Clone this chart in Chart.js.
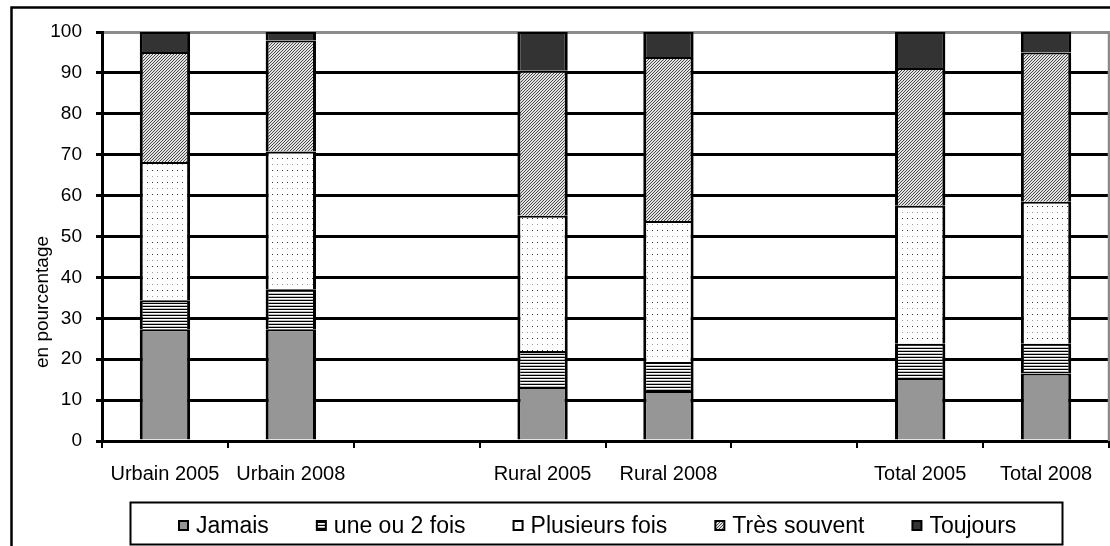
<!DOCTYPE html>
<html>
<head>
<meta charset="utf-8">
<script src="https://cdn.jsdelivr.net/npm/chart.js@4"></script>
<style>
  html, body { margin: 0; padding: 0; background: #fff; }
  #wrap { width: 1110px; height: 546px; position: relative; }
</style>
</head>
<body>
<div id="wrap"><canvas id="chart" width="1110" height="546"></canvas></div>
<script>
// Categories (empty slots leave a gap between the groups)
const categories = ['Urbain 2005', 'Urbain 2008', '', 'Rural 2005', 'Rural 2008', '', 'Total 2005', 'Total 2008'];

// Shares in percent, stacked from bottom to top
const jamais        = [27.3, 27.3, null, 13.2, 12.2, null, 15.4, 16.5];
const uneOuDeuxFois = [7.1,  9.8,  null, 8.8,  7.1,  null, 8.4,  7.3];
const plusieursFois = [33.8, 33.7, null, 33.1, 34.5, null, 33.7, 34.7];
const tresSouvent   = [26.9, 27.1, null, 35.4, 40.1, null, 33.7, 36.5];
const toujours      = [4.9,  2.1,  null, 9.5,  6.1,  null, 8.8,  5.0];

const seriesNames = ['Jamais', 'une ou 2 fois', 'Plusieurs fois', 'Très souvent', 'Toujours'];
const yTicks = [0, 10, 20, 30, 40, 50, 60, 70, 80, 90, 100];
const yTitle = 'en pourcentage';

const FONT = "'Liberation Sans', Arial, Helvetica, sans-serif";

// Small tiled fills in the style of monochrome office charts
function makePattern(w, h, paint) {
  const c = document.createElement('canvas');
  c.width = w; c.height = h;
  const g = c.getContext('2d');
  g.fillStyle = '#fff';
  g.fillRect(0, 0, w, h);
  paint(g);
  return document.createElement('canvas').getContext('2d').createPattern(c, 'repeat');
}
function px(g, x, y, col) { g.fillStyle = col; g.fillRect(x, y, 1, 1); }

const fillJamais = '#969696';
const fillUne = makePattern(3, 3, g => { g.fillStyle = '#000'; g.fillRect(0, 0, 3, 1); g.fillStyle = '#bbb'; g.fillRect(0, 2, 3, 1); });
const fillPlusieurs = makePattern(5, 12, g => { px(g, 2, 2, '#333'); px(g, 2, 8, '#999'); });
const fillTres = makePattern(3, 3, g => {
  g.fillStyle = '#e2e2e2'; g.fillRect(0, 0, 3, 3);
  for (let i = 0; i < 3; i++) { px(g, 2 - i, i, '#4a4a4a'); }
});
const fillToujours = '#333333';

const fills = [fillJamais, fillUne, fillPlusieurs, fillTres, fillToujours];
const values = [jamais, uneOuDeuxFois, plusieursFois, tresSouvent, toujours];

// Each segment draws its top and sides, so stacked boundaries stay single lines
const datasets = seriesNames.map((name, i) => ({
  label: name,
  data: values[i],
  backgroundColor: fills[i],
  borderColor: '#000',
  borderWidth: { top: 2, left: 3, right: 3, bottom: 0 },
  borderSkipped: false,
  inflateAmount: 0,
  barPercentage: 0.4,
  categoryPercentage: 1.0
}));

// Frame, right plot edge, rotated axis title and boxed legend
const decorations = {
  id: 'decorations',
  beforeDraw(chart) {
    const ctx = chart.ctx;
    ctx.save();
    ctx.fillStyle = '#fff';
    ctx.fillRect(0, 0, chart.width, chart.height);
    ctx.strokeStyle = '#000';
    ctx.lineWidth = 2.5;
    ctx.strokeRect(11.5, 7.5, chart.width + 20, chart.height + 20);
    ctx.restore();
  },
  afterDatasetsDraw(chart) {
    const { ctx, chartArea } = chart;
    ctx.save();
    ctx.strokeStyle = '#8c8c8c';
    ctx.lineWidth = 2.5;
    ctx.beginPath();
    ctx.moveTo(chartArea.right, chartArea.top - 1);
    ctx.lineTo(chartArea.right, chartArea.bottom);
    ctx.stroke();
    ctx.restore();
  },
  afterDraw(chart) {
    const ctx = chart.ctx;
    ctx.save();
    // axis title
    ctx.fillStyle = '#000';
    ctx.font = '19px ' + FONT;
    ctx.textAlign = 'center';
    ctx.textBaseline = 'alphabetic';
    ctx.translate(48, 302);
    ctx.rotate(-Math.PI / 2);
    ctx.fillText(yTitle, 0, 0);
    ctx.restore();

    // legend
    ctx.save();
    ctx.strokeStyle = '#000';
    ctx.lineWidth = 2;
    ctx.strokeRect(130.5, 502.5, 932, 42);
    ctx.font = '23px ' + FONT;
    ctx.textAlign = 'left';
    ctx.textBaseline = 'alphabetic';
    let x = 178;
    seriesNames.forEach((name, i) => {
      ctx.fillStyle = '#000';
      ctx.fillRect(x, 520, 11, 11);
      ctx.fillStyle = fills[i];
      ctx.fillRect(x + 2, 522, 7, 7);
      ctx.fillStyle = '#000';
      ctx.fillText(name, x + 18, 533);
      x += 18 + ctx.measureText(name).width + 47;
    });
    ctx.restore();
  }
};

new Chart(document.getElementById('chart'), {
  type: 'bar',
  data: { labels: categories, datasets },
  options: {
    responsive: false,
    animation: false,
    layout: { padding: { left: 0, right: 1, top: 32, bottom: 0 } },
    plugins: { legend: { display: false }, tooltip: { enabled: false } },
    scales: {
      x: {
        stacked: true,
        offset: true,
        grid: {
          display: true, drawOnChartArea: false, drawTicks: true, offset: true,
          tickLength: 7, color: '#000', lineWidth: 2
        },
        border: { display: true, color: '#000', width: 3 },
        ticks: { color: '#000', font: { family: FONT, size: 20 }, padding: 14, maxRotation: 0, autoSkip: false },
        afterFit(scale) { scale.height = 105; }
      },
      y: {
        stacked: true,
        min: 0,
        max: 100,
        afterBuildTicks(scale) { scale.ticks = yTicks.map(v => ({ value: v })); },
        ticks: { color: '#000', font: { family: FONT, size: 19 }, padding: 14 },
        grid: {
          color: c => (c.tick && c.tick.value === 100 ? '#8c8c8c' : '#000'),
          lineWidth: 3, tickColor: '#000', tickLength: 6, tickWidth: 3
        },
        border: { display: true, color: '#000', width: 3 },
        afterFit(scale) { scale.width = 102; }
      }
    }
  },
  plugins: [decorations]
});
</script>
</body>
</html>
